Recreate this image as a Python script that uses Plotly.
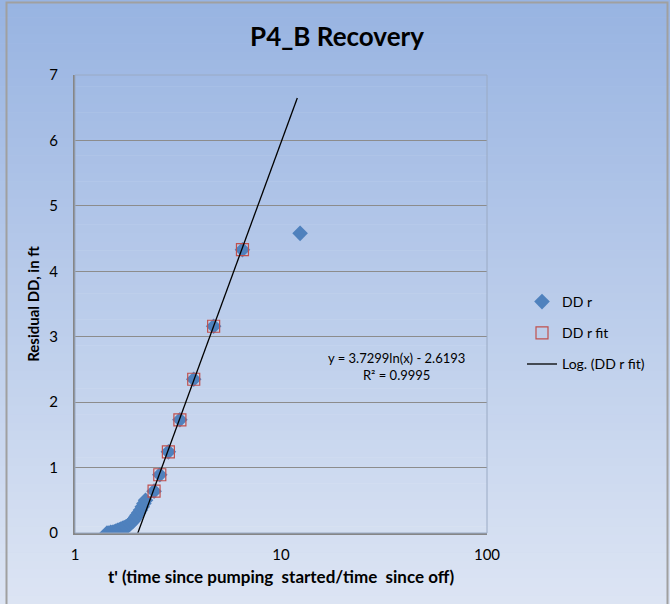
import numpy as np
import plotly.graph_objects as go

# ---- data ----
dd_r_x = [1.43, 1.46, 1.49, 1.52, 1.55, 1.58, 1.61, 1.64, 1.67, 1.70, 1.73, 1.76,
          1.79, 1.82, 1.85, 1.88, 1.91, 1.94, 1.97, 2.00, 2.04, 2.08, 2.12, 2.16,
          2.20, 2.42, 2.58, 2.84, 3.23, 3.77, 4.71, 6.50, 12.38]
dd_r_y = [0.00, 0.00, 0.01, 0.01, 0.02, 0.03, 0.04, 0.05, 0.06, 0.07, 0.08, 0.09,
          0.10, 0.12, 0.14, 0.16, 0.18, 0.21, 0.24, 0.27, 0.31, 0.35, 0.40, 0.45,
          0.50, 0.64, 0.89, 1.24, 1.73, 2.35, 3.16, 4.33, 4.58]
fit_x = [2.42, 2.58, 2.84, 3.23, 3.77, 4.71, 6.50]
fit_y = [0.64, 0.89, 1.24, 1.73, 2.35, 3.16, 4.33]
coef_a = 3.7299
coef_b = -2.6193
r2 = 0.9995
trend_x_range = (2.0, 12.0)
x_ticks = [1, 10, 100]
y_ticks = [0, 1, 2, 3, 4, 5, 6, 7]

trend_x = np.logspace(np.log10(trend_x_range[0]), np.log10(trend_x_range[1]), 80)
trend_y = coef_a * np.log(trend_x) + coef_b

FONT = "Lato"

fig = go.Figure()
fig.add_trace(go.Scatter(x=dd_r_x, y=dd_r_y, mode="markers", name="DD r",
                         legendgroup="a",
                         marker=dict(symbol="diamond", size=12, color="#4F81BD",
                                     line=dict(width=0))))
fig.add_trace(go.Scatter(x=fit_x, y=fit_y, mode="markers", name="DD r fit",
                         legendgroup="b",
                         marker=dict(symbol="square-open", size=12, color="#C0504D",
                                     line=dict(width=1.2))))
fig.add_trace(go.Scatter(x=trend_x, y=trend_y, mode="lines", name="Log. (DD r fit)",
                         legendgroup="c",
                         line=dict(color="black", width=1.3)))

# gradient background over the whole canvas (paper coords)
L, R, T, B = 75, 183, 75, 71
W, H = 670, 604
pw, ph = W - L - R, H - T - B
def px2x(p):
    return (p - L) / pw
def py2y(p):
    return (H - B - p) / ph

shapes = []
top_c = np.array([152, 180, 226])
bot_c = np.array([221, 229, 244])
n = 70
for i in range(n):
    p0 = H * i / n
    p1 = H * (i + 1) / n + 0.5
    c = top_c + (bot_c - top_c) * (i + 0.5) / n
    shapes.append(dict(type="rect", xref="paper", yref="paper", layer="below",
                       x0=px2x(0), x1=px2x(W), y0=py2y(p1), y1=py2y(p0),
                       fillcolor="rgb(%d,%d,%d)" % tuple(c.astype(int)),
                       line=dict(width=0)))
# outer frame
shapes.append(dict(type="rect", xref="paper", yref="paper", layer="above",
                   x0=px2x(6.5), x1=px2x(667.5), y0=py2y(620), y1=py2y(2.5),
                   fillcolor="rgba(0,0,0,0)", line=dict(color="#A0A0A0", width=2)))
# plot area top/right border
shapes.append(dict(type="rect", xref="paper", yref="paper", layer="above",
                   x0=0, x1=1, y0=0, y1=1,
                   fillcolor="rgba(0,0,0,0)", line=dict(color="#9AAAC4", width=1)))

fig.update_layout(
    width=W, height=H,
    margin=dict(l=L, r=R, t=T, b=B),
    paper_bgcolor="rgb(190,205,235)",
    plot_bgcolor="white",
    font=dict(family=FONT, size=14, color="black"),
    title=dict(text="<b>P4_B Recovery</b>", x=0.503, xanchor="center",
               y=1 - 37 / H, yanchor="middle", font=dict(size=26, family=FONT)),
    shapes=shapes,
    showlegend=True,
    legend=dict(x=px2x(522), xanchor="left", y=py2y(286), yanchor="top",
                bgcolor="rgba(0,0,0,0)", font=dict(size=14, family=FONT),
                tracegroupgap=10, itemwidth=30),
    annotations=[dict(text="y = %.4fln(x) - %.4f<br>R² = %.4f" % (coef_a, -coef_b, r2),
                      xref="paper", yref="paper", x=px2x(396), y=py2y(366),
                      xanchor="center", yanchor="middle", showarrow=False,
                      align="center", font=dict(size=13, family=FONT))],
)
fig.update_xaxes(type="log", range=[0, 2], tickvals=x_ticks,
                 ticktext=[str(v) for v in x_ticks], showgrid=False,
                 zeroline=False, showline=True, linecolor="#868686", linewidth=2,
                 ticks="", ticklabelstandoff=7, tickfont=dict(size=15),
                 title=dict(text="<b>t' (time since pumping  started/time  since off)</b>",
                            font=dict(size=17, family=FONT), standoff=9))
fig.update_yaxes(range=[0, 7], tickvals=y_ticks, showgrid=True, gridcolor="#8C8C8C",
                 gridwidth=1, zeroline=False, showline=True, linecolor="#868686",
                 linewidth=2, ticks="outside", ticklen=12, tickcolor="rgba(0,0,0,0)",
                 tickfont=dict(size=15),
                 title=dict(text="<b>Residual DD, in ft</b>",
                            font=dict(size=15, family=FONT), standoff=6))

fig.write_html("out.html")
